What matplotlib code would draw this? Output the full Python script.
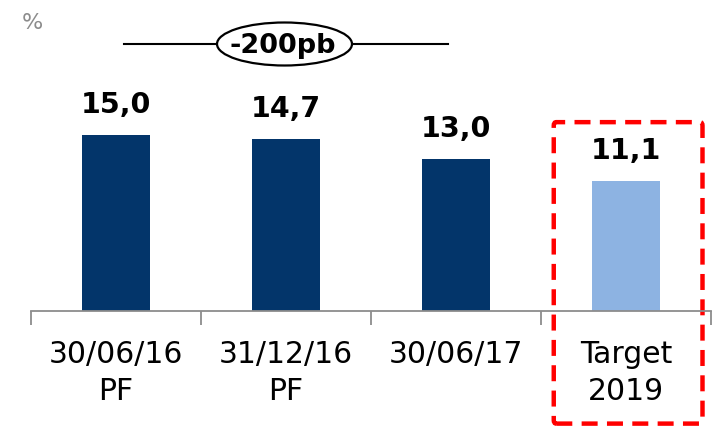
import matplotlib
matplotlib.use("Agg")
import matplotlib.pyplot as plt
from matplotlib.patches import Ellipse, FancyBboxPatch

# Data
categories = ["30/06/16\nPF", "31/12/16\nPF", "30/06/17", "Target\n2019"]
values = [15.0, 14.7, 13.0, 11.1]
bar_colors = ["#03356A", "#03356A", "#03356A", "#8DB3E2"]
delta_label = "-200pb"

W, H = 718, 431
fig = plt.figure(figsize=(W / 100, H / 100), dpi=100)

# axes: x from px 31 to 711, baseline at px 312, 11.73 px per unit
ax_top_px = 20
ax = fig.add_axes([31 / W, (H - 312) / H, 680 / W, (312 - ax_top_px) / H])
ymax = (312 - ax_top_px) / 11.73
pos = list(range(len(values)))
ax.bar(pos, values, width=0.4, color=bar_colors)
ax.set_xlim(-0.5, len(values) - 0.5)
ax.set_ylim(0, ymax)

for x, v in zip(pos, values):
    ax.text(x, v + 1.45, f"{v:.1f}".replace(".", ","), ha="center", va="bottom",
            fontsize=20.5, fontweight="bold", color="black")

# axis line with boundary ticks
for s in ["top", "right", "left"]:
    ax.spines[s].set_visible(False)
ax.spines["bottom"].set_color("#8C8C8C")
ax.spines["bottom"].set_linewidth(1.3)
ax.set_yticks([])
ax.set_xticks([p - 0.5 for p in pos] + [len(values) - 0.5])
ax.set_xticklabels([])
ax.tick_params(axis="x", length=10, width=1.3, color="#8C8C8C", direction="out")

for x, lab in zip(pos, categories):
    ax.text(x, -2.4, lab, ha="center", va="top", fontsize=21.5,
            color="black", linespacing=1.32)

# red dashed box around the target
box = FancyBboxPatch((2.575, -9.6), 0.875, 25.7,
                     boxstyle="round,pad=0,rounding_size=0.015",
                     fill=False, edgecolor="#FF0000", linewidth=3.2,
                     linestyle=(0, (3.6, 2.1)), clip_on=False, mutation_aspect=20)
ax.add_patch(box)

# "%" unit label
fig.text(22 / W, 1 - 23 / H, "%", fontsize=16, color="#8C8C8C", va="center", ha="left")

# -200pb line with ellipse
line_y = 1 - 45 / H
fig.add_artist(plt.Line2D([124 / W, 217 / W], [line_y, line_y], color="black", lw=1.5))
fig.add_artist(plt.Line2D([352 / W, 448 / W], [line_y, line_y], color="black", lw=1.5))
ell = Ellipse((284.5 / W, line_y), 135 / W, 43 / H, transform=fig.transFigure,
              fill=False, edgecolor="black", lw=1.6)
fig.add_artist(ell)
fig.text(283 / W, line_y - 1 / H, delta_label, ha="center", va="center",
         fontsize=19.5, fontweight="bold")

fig.savefig("out.png", dpi=100)
